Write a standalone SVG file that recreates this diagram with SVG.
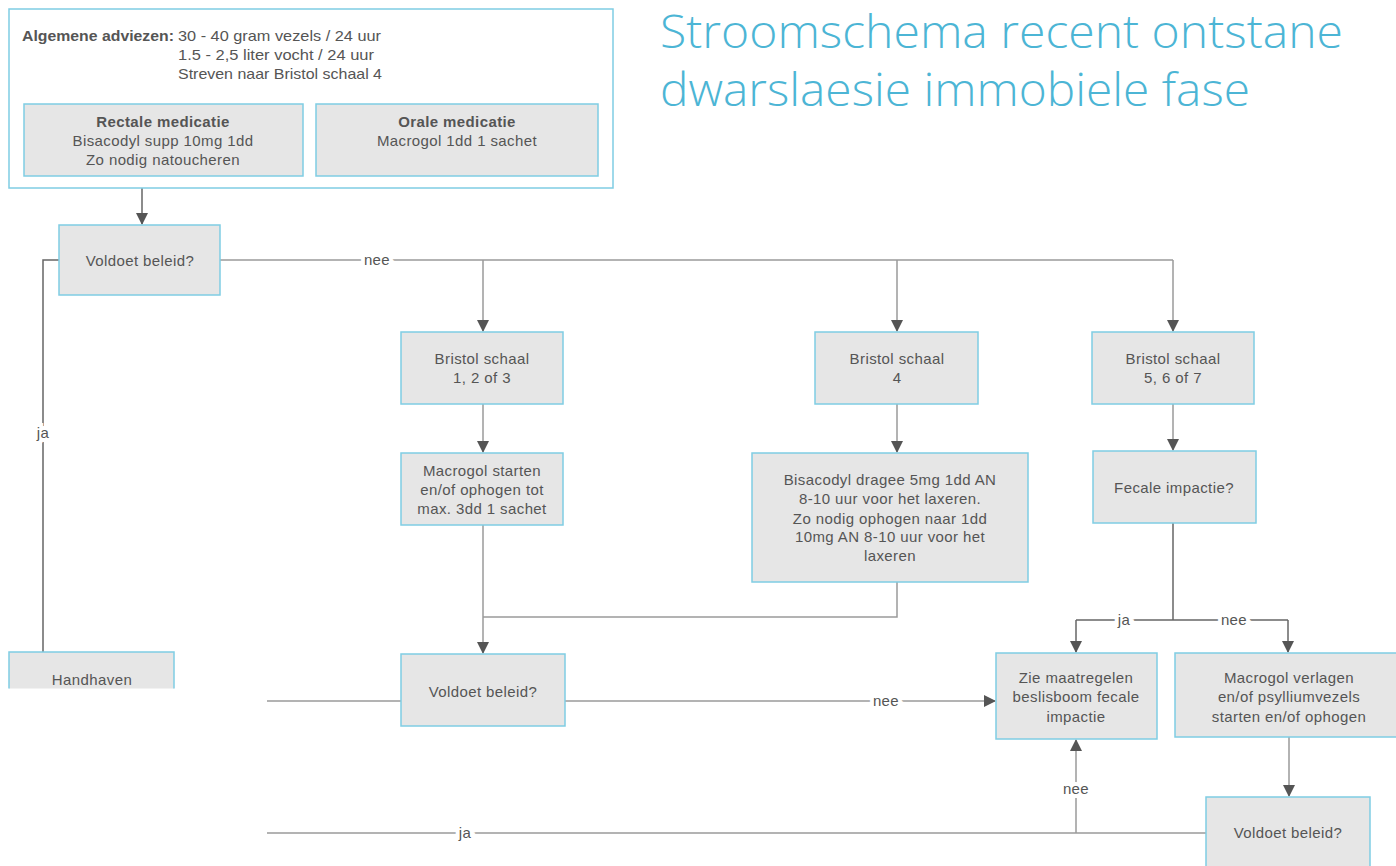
<svg xmlns="http://www.w3.org/2000/svg" width="1396" height="866" viewBox="0 0 1396 866">
<defs>
<marker id="arr" markerUnits="userSpaceOnUse" markerWidth="12" markerHeight="12" viewBox="0 0 12 12" refX="11" refY="6" orient="auto">
<path d="M0,0 L12,6 L0,12 Z" fill="#555"/>
</marker>
<clipPath id="hclip"><rect x="0" y="640" width="270" height="48.5"/></clipPath>
</defs>
<style>
.box{fill:#e6e6e6;stroke:#7fcde3;stroke-width:1.5}
.outer{fill:#fff;stroke:#7fcde3;stroke-width:1.5}
.t{font-family:"Liberation Sans",Arial,sans-serif;font-size:15px;letter-spacing:0.4px;fill:#555;text-anchor:middle}
.tl{font-family:"Liberation Sans",Arial,sans-serif;font-size:14.5px;fill:#555}
.b{font-weight:bold}
.ln{fill:none;stroke:#9a9a9a;stroke-width:1.5}
.lnd{fill:none;stroke:#666;stroke-width:1.5}
.lab{font-family:"Liberation Sans",Arial,sans-serif;font-size:15px;letter-spacing:0.4px;fill:#555;text-anchor:middle;stroke:#fff;stroke-width:8;paint-order:stroke}
.title{font-family:"Open Sans","Liberation Sans",sans-serif;font-weight:300;font-size:46px;fill:#4cb5d5}
</style>
<rect width="1396" height="866" fill="#fff"/>

<g id="title">
<text class="title" x="660" y="48" textLength="683" lengthAdjust="spacingAndGlyphs">Stroomschema recent ontstane</text>
<text class="title" x="660" y="106" textLength="590" lengthAdjust="spacingAndGlyphs">dwarslaesie immobiele fase</text>
</g>

<g id="connectors">
<path class="lnd" d="M142,188 V224" marker-end="url(#arr)"/>
<path class="ln" d="M220,260 H1173"/>
<path class="ln" d="M483,260 V331" marker-end="url(#arr)"/>
<path class="ln" d="M897,260 V331" marker-end="url(#arr)"/>
<path class="ln" d="M1173,260 V331" marker-end="url(#arr)"/>
<path class="lnd" d="M59,260 H43 V652"/>
<path class="ln" d="M483,404 V452" marker-end="url(#arr)"/>
<path class="ln" d="M897,404 V452" marker-end="url(#arr)"/>
<path class="ln" d="M1173,404 V450" marker-end="url(#arr)"/>
<path class="ln" d="M483,525 V653" marker-end="url(#arr)"/>
<path class="ln" d="M897,582 V617 H483"/>
<path class="lnd" d="M1173,523 V620"/>
<path class="lnd" d="M1076,620 H1288"/>
<path class="lnd" d="M1076,620 V652" marker-end="url(#arr)"/>
<path class="lnd" d="M1288,620 V652" marker-end="url(#arr)"/>
<path class="ln" d="M565,701 H995" marker-end="url(#arr)"/>
<path class="ln" d="M267,701 H401"/>
<path class="ln" d="M1289,737 V796" marker-end="url(#arr)"/>
<path class="ln" d="M1206,833 H267"/>
<path class="ln" d="M1076,833 V740" marker-end="url(#arr)"/>
<text class="lab" x="377" y="265">nee</text>
<text class="lab" x="43" y="438">ja</text>
<text class="lab" x="1124" y="625">ja</text>
<text class="lab" x="1234" y="625">nee</text>
<text class="lab" x="886" y="706">nee</text>
<text class="lab" x="1076" y="794">nee</text>
<text class="lab" x="465" y="838">ja</text>
</g>

<g id="algemeen">
<rect class="outer" x="9" y="9" width="604" height="179"/>
<text class="tl b" x="22" y="41" textLength="152" lengthAdjust="spacingAndGlyphs">Algemene adviezen:</text>
<text class="tl" x="178" y="41" textLength="203" lengthAdjust="spacingAndGlyphs">30 - 40 gram vezels / 24 uur</text>
<text class="tl" x="178" y="60" textLength="196" lengthAdjust="spacingAndGlyphs">1.5 - 2,5 liter vocht / 24 uur</text>
<text class="tl" x="178" y="79" textLength="204" lengthAdjust="spacingAndGlyphs">Streven naar Bristol schaal 4</text>
</g>
<g id="rectale">
<rect class="box" x="24" y="104" width="279" height="72"/>
<text class="t b" x="163" y="127">Rectale medicatie</text>
<text class="t" x="163" y="146">Bisacodyl supp 10mg 1dd</text>
<text class="t" x="163" y="165">Zo nodig natoucheren</text>
</g>
<g id="orale">
<rect class="box" x="316" y="104" width="282" height="72"/>
<text class="t b" x="457" y="127">Orale medicatie</text>
<text class="t" x="457" y="146">Macrogol 1dd 1 sachet</text>
</g>

<g id="voldoet1">
<rect class="box" x="59" y="225" width="161" height="70"/>
<text class="t" x="140" y="266">Voldoet beleid?</text>
</g>
<g id="handhaven" clip-path="url(#hclip)">
<rect class="box" x="9" y="652" width="165" height="70"/>
<text class="t" x="92" y="685">Handhaven</text>
</g>

<g id="bristol123">
<rect class="box" x="401" y="332" width="162" height="72"/>
<text class="t" x="482" y="364">Bristol schaal</text>
<text class="t" x="482" y="383">1, 2 of 3</text>
</g>
<g id="bristol4">
<rect class="box" x="815" y="332" width="163" height="72"/>
<text class="t" x="897" y="364">Bristol schaal</text>
<text class="t" x="897" y="383">4</text>
</g>
<g id="bristol567">
<rect class="box" x="1092" y="332" width="162" height="72"/>
<text class="t" x="1173" y="364">Bristol schaal</text>
<text class="t" x="1173" y="383">5, 6 of 7</text>
</g>

<g id="macrogol-starten">
<rect class="box" x="401" y="453" width="162" height="72"/>
<text class="t" x="482" y="476">Macrogol starten</text>
<text class="t" x="482" y="495">en/of ophogen tot</text>
<text class="t" x="482" y="514">max. 3dd 1 sachet</text>
</g>
<g id="bisacodyl">
<rect class="box" x="752" y="453" width="276" height="129"/>
<text class="t" x="890" y="485">Bisacodyl dragee 5mg 1dd AN</text>
<text class="t" x="890" y="504">8-10 uur voor het laxeren.</text>
<text class="t" x="890" y="524">Zo nodig ophogen naar 1dd</text>
<text class="t" x="890" y="542">10mg AN 8-10 uur voor het</text>
<text class="t" x="890" y="561">laxeren</text>
</g>
<g id="fecale">
<rect class="box" x="1093" y="451" width="163" height="72"/>
<text class="t" x="1174" y="493">Fecale impactie?</text>
</g>

<g id="voldoet2">
<rect class="box" x="401" y="654" width="164" height="72"/>
<text class="t" x="483" y="697">Voldoet beleid?</text>
</g>
<g id="zie">
<rect class="box" x="996" y="653" width="161" height="86"/>
<text class="t" x="1076" y="683">Zie maatregelen</text>
<text class="t" x="1076" y="702">beslisboom fecale</text>
<text class="t" x="1076" y="722">impactie</text>
</g>
<g id="macrogol-verlagen">
<rect class="box" x="1175" y="653" width="228" height="84"/>
<text class="t" x="1289" y="683">Macrogol verlagen</text>
<text class="t" x="1289" y="702">en/of psylliumvezels</text>
<text class="t" x="1289" y="722">starten en/of ophogen</text>
</g>
<g id="voldoet3">
<rect class="box" x="1206" y="797" width="164" height="80"/>
<text class="t" x="1288" y="838">Voldoet beleid?</text>
</g>
</svg>
